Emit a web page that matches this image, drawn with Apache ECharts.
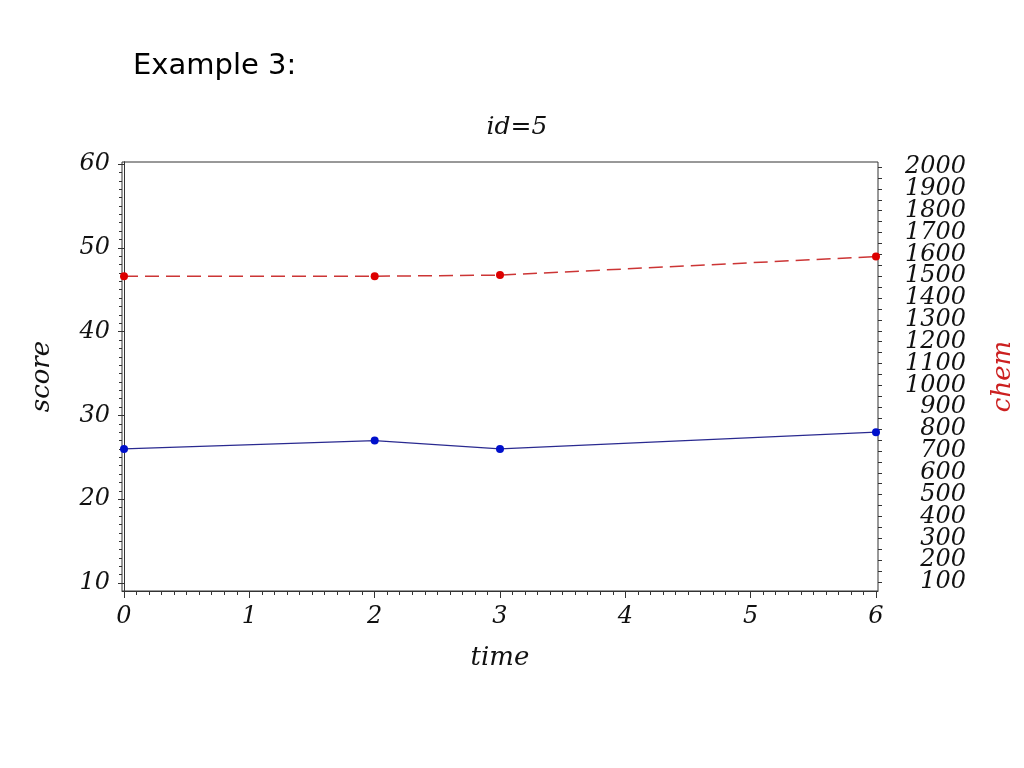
<!DOCTYPE html>
<html>
<head>
<meta charset="utf-8">
<script src="https://cdn.jsdelivr.net/npm/echarts@6/dist/echarts.min.js"></script>
<style>html,body{margin:0;padding:0;background:#fff}#c{width:1024px;height:768px}</style>
</head>
<body>
<div id="c"></div>
<script>
// ---- data ----
const times = [0, 2, 3, 6];
const score = [26, 27, 26, 28];
const chem = [1500, 1500, 1505, 1590];
const xTickLabels = [0, 1, 2, 3, 4, 5, 6];
const scoreTickLabels = [10, 20, 30, 40, 50, 60];
const chemTickLabels = [100,200,300,400,500,600,700,800,900,1000,1100,1200,1300,1400,1500,1600,1700,1800,1900,2000];

const xMinor = []; for (let i = 0; i <= 60; i++) xMinor.push(+(i / 10).toFixed(2));
const yMinor = []; for (let i = 10; i <= 60; i++) yMinor.push(i);
const chemTicks = []; for (let v = 100; v <= 2000; v += 50) chemTicks.push(v);
const chemLabA = chemTickLabels.filter((v, i) => i % 2 === 0);
const chemLabB = chemTickLabels.filter((v, i) => i % 2 === 1);

const serif = 'DejaVu Serif';
const lab = {fontFamily: serif, fontStyle: 'italic', fontSize: 24, color: '#111', formatter: v => String(v), showMinLabel: true, showMaxLabel: true, hideOverlap: false};
const lineC = '#333';
const CMIN = 58.8, CMAX = 2022.9, SMIN = 9.05, SMAX = 60.24;

const chart = echarts.init(document.getElementById('c'));
chart.setOption({
  animation: false,
  backgroundColor: '#fff',
  title: [
    {text: 'Example 3:', left: 128, top: 47, textStyle: {fontFamily: 'DejaVu Sans', fontWeight: 'normal', fontSize: 29, color: '#000'}},
    {text: 'id=5', left: 512, textAlign: 'center', top: 110, textStyle: {fontFamily: serif, fontStyle: 'italic', fontWeight: 'normal', fontSize: 25, color: '#111'}}
  ],
  grid: {left: 122, right: 144, top: 162, bottom: 177, show: true, borderColor: lineC, borderWidth: 1, containLabel: false},
  xAxis: [
    {type: 'value', min: -0.016, max: 6.016, position: 'bottom',
     axisLine: {show: true, lineStyle: {color: lineC}},
     axisTick: {show: true, inside: false, length: 7, customValues: xTickLabels, lineStyle: {color: lineC}},
     axisLabel: {show: true, customValues: xTickLabels, margin: 14, ...lab},
     splitLine: {show: false},
     name: 'time', nameLocation: 'middle', nameGap: 54,
     nameTextStyle: {fontFamily: serif, fontStyle: 'italic', fontSize: 26, color: '#111'}},
    {type: 'value', min: -0.016, max: 6.016, position: 'bottom',
     axisLine: {show: false},
     axisTick: {show: true, inside: false, length: 4, customValues: xMinor, lineStyle: {color: lineC}},
     axisLabel: {show: false}, splitLine: {show: false}}
  ],
  yAxis: [
    {type: 'value', min: SMIN, max: SMAX, position: 'left',
     axisLine: {show: true, lineStyle: {color: lineC}},
     axisTick: {show: true, inside: false, length: 6, customValues: scoreTickLabels, lineStyle: {color: lineC}},
     axisLabel: {show: true, customValues: scoreTickLabels, margin: 12, ...lab},
     splitLine: {show: false},
     name: 'score', nameLocation: 'middle', nameGap: 67, nameRotate: 90,
     nameTextStyle: {fontFamily: serif, fontStyle: 'italic', fontSize: 26, color: '#111'}},
    {type: 'value', min: CMIN, max: CMAX, position: 'right',
     axisLine: {show: true, lineStyle: {color: lineC}},
     axisTick: {show: false},
     axisLabel: {show: true, customValues: chemLabA, margin: 88, align: 'right', ...lab},
     splitLine: {show: false},
     name: 'chem', nameLocation: 'middle', nameGap: 112, nameRotate: 90,
     nameTextStyle: {fontFamily: serif, fontStyle: 'italic', fontSize: 26, color: '#cc2020'}},
    {type: 'value', min: SMIN, max: SMAX, position: 'left',
     axisLine: {show: false},
     axisTick: {show: true, inside: false, length: 3, customValues: yMinor, lineStyle: {color: lineC}},
     axisLabel: {show: false}, splitLine: {show: false}},
    {type: 'value', min: CMIN, max: CMAX, position: 'right', offset: 0,
     axisLine: {show: false},
     axisTick: {show: true, inside: false, length: 4, customValues: chemTicks, lineStyle: {color: lineC}},
     axisLabel: {show: true, customValues: chemLabB, margin: 88, align: 'right', ...lab},
     splitLine: {show: false}}
  ],
  series: [
    {type: 'line', name: 'score', xAxisIndex: 0, yAxisIndex: 0,
     data: times.map((t, i) => [t, score[i]]),
     symbol: 'circle', symbolSize: 8,
     lineStyle: {color: '#2a2a90', width: 1.3},
     itemStyle: {color: '#0010cc'}},
    {type: 'line', name: 'chem', xAxisIndex: 0, yAxisIndex: 1,
     data: times.map((t, i) => [t, chem[i]]),
     symbol: 'circle', symbolSize: 8,
     lineStyle: {color: '#cc3535', width: 1.5, type: [14, 7]},
     itemStyle: {color: '#dd0000'}}
  ]
});
</script>
</body>
</html>
